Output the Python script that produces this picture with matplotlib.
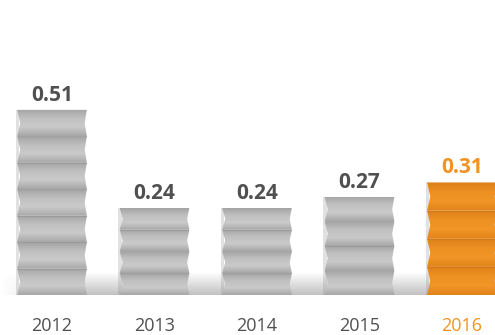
import matplotlib.pyplot as plt
import numpy as np
from matplotlib.patches import Polygon
from matplotlib.colors import LinearSegmentedColormap

years = ["2012", "2013", "2014", "2015", "2016"]
values = [0.51, 0.24, 0.24, 0.27, 0.31]
highlight = [False, False, False, False, True]

GREY_TXT = "#505050"
ORANGE = "#f39323"

plt.rcParams['font.family'] = ['Open Sans', 'DejaVu Sans']

fig = plt.figure(figsize=(4.95, 3.35), dpi=100)
ax = fig.add_axes([0, 40 / 335, 1, 295 / 335])

ymax = 295 / 363
xs = np.arange(len(years))
width = 0.68
zig = 0.03

grey_cmap = LinearSegmentedColormap.from_list("g", ["#a8a8a8", "#cacaca", "#c0c0c0", "#a4a4a4"])
orange_cmap = LinearSegmentedColormap.from_list("o", ["#e0841a", "#f29628", "#ee9022", "#dc8018"])

# floor shadow behind the bars
shadow_h = 0.062
sh = np.linspace(0, 1, 60)[:, None] * np.ones((1, 200))
fade = np.clip(np.linspace(0, 6, 200), 0, 1)[None, :]
shadow = np.dstack([np.full_like(sh, 0.7)] * 3 + [(1 - sh) * 0.8 * fade])
ax.imshow(shadow, extent=[-0.51, 4.33, 0, shadow_h], origin="lower",
          aspect="auto", zorder=1, interpolation="bilinear")

for x, v, hi in zip(xs, values, highlight):
    cmap = orange_cmap if hi else grey_cmap
    edge = "#d27514" if hi else "#969696"
    n = max(4, int(round(v / 0.072)))
    seg = v / n
    L, R = x - width / 2, x + width / 2
    for k in range(n):
        y0, y1 = k * seg, (k + 1) * seg
        ym = (y0 + y1) / 2
        pts = [(L, y0), (R, y0), (R - zig * 0.7, ym), (R, y1),
               (L, y1), (L + zig, ym)]
        poly = Polygon(pts, closed=True, facecolor="none", edgecolor="none", zorder=3)
        ax.add_patch(poly)
        grad = np.linspace(0, 1, 50)[:, None]
        im = ax.imshow(grad, extent=[L - 0.01, R + 0.01, y0, y1], origin="lower",
                       cmap=cmap, aspect="auto", zorder=2, interpolation="bilinear")
        im.set_clip_path(poly)
        ax.plot([L + 0.01, R - 0.01], [y0, y0], color=edge, lw=0.8, zorder=4, alpha=0.7)
    # darker left shading
    ax.fill_between([L - 0.015, L + 0.02], 0, v, color="#8a8a8a", alpha=0.25, zorder=1.5, lw=0)
    ax.text(x, v + 0.012, f"{v:.2f}", ha="center", va="bottom", fontsize=15,
            fontweight="bold", color=ORANGE if hi else GREY_TXT)

ax.set_xlim(-52 / 102.5, (495 - 52) / 102.5)
ax.set_ylim(0, ymax)
ax.set_xticks(xs)
ax.set_xticklabels(years, fontsize=13)
for lab, hi in zip(ax.get_xticklabels(), highlight):
    lab.set_color(ORANGE if hi else GREY_TXT)
ax.tick_params(axis="x", length=0, pad=16)
ax.set_yticks([])
for s in ax.spines.values():
    s.set_visible(False)

fig.savefig("out.png", dpi=100)
